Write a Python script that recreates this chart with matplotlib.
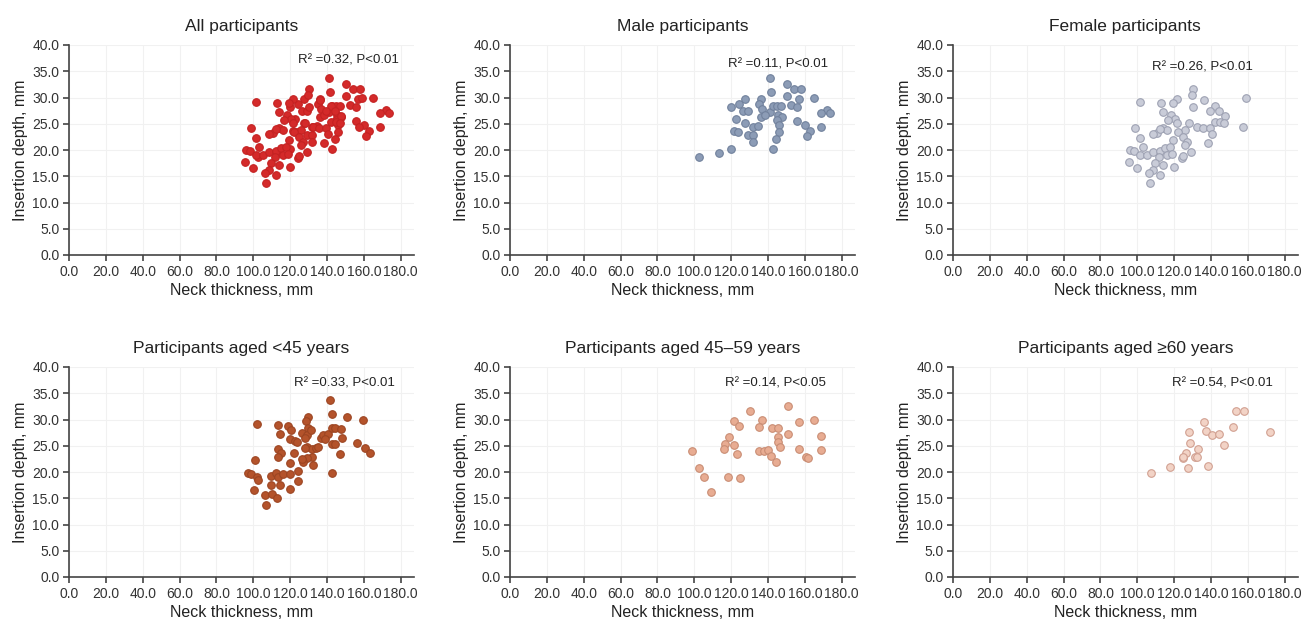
import matplotlib
matplotlib.use("Agg")
import matplotlib.pyplot as plt

# --- data (neck thickness mm, insertion depth mm) ---
male_x = [141.0, 150.5, 154.1, 158.0, 141.9, 165.2, 150.5, 156.8, 127.5, 136.1,
          120.0, 124.1, 134.9, 126.2, 128.9, 137.0, 141.0, 142.8, 145.1, 146.9,
          152.3, 155.9, 172.0, 173.9, 168.5, 122.7, 136.1, 138.5, 145.6, 147.8,
          145.1, 146.0, 155.5, 127.5, 131.6, 134.7, 121.8, 123.6, 128.9, 131.6,
          146.0, 160.0, 162.7, 161.3, 168.5, 144.2, 132.0, 120.0, 113.3, 102.4,
          142.8]
male_y = [33.8, 32.6, 31.7, 31.7, 31.1, 30.0, 30.3, 29.7, 29.7, 29.8,
          28.1, 28.7, 28.7, 27.4, 27.4, 27.9, 27.3, 28.3, 28.4, 28.3,
          28.6, 28.1, 27.6, 27.0, 27.0, 26.0, 26.2, 26.7, 26.7, 26.2,
          25.7, 24.8, 25.6, 25.1, 24.4, 24.5, 23.7, 23.5, 22.9, 22.9,
          23.5, 24.8, 23.6, 22.7, 24.3, 22.1, 21.5, 20.2, 19.4, 18.7,
          20.1]

female_x = [130.4, 129.8, 121.8, 136.1, 101.3, 112.8, 119.2, 159.1, 130.4, 114.2,
            142.4, 139.7, 144.4, 147.5, 118.2, 120.5, 116.9, 142.1, 144.8, 147.1,
            121.4, 128.2, 132.2, 135.4, 139.4, 157.3, 99.0, 113.9, 110.6, 108.5,
            116.0, 112.4, 125.9, 140.8, 101.3, 122.3, 125.0, 119.2, 126.8, 125.9,
            138.5, 102.9, 96.3, 98.4, 101.7, 105.2, 108.5, 112.4, 115.1, 117.8,
            116.0, 118.7, 111.9, 129.1, 124.1, 95.4, 109.8, 99.8, 108.8, 113.7,
            120.0, 106.1, 112.4, 106.7, 125.0]
female_y = [31.6, 30.5, 29.8, 29.5, 29.1, 28.9, 28.9, 30.0, 28.1, 27.3,
            28.3, 27.4, 27.4, 26.5, 26.7, 26.0, 25.7, 25.4, 25.4, 25.1,
            25.1, 25.1, 24.3, 24.1, 24.1, 24.3, 24.1, 24.1, 23.2, 23.0,
            23.8, 24.0, 23.8, 23.0, 22.3, 23.4, 22.5, 21.9, 21.6, 21.0,
            21.3, 20.6, 20.0, 19.8, 19.0, 19.0, 19.6, 19.8, 20.3, 20.6,
            19.0, 19.2, 18.7, 19.6, 18.4, 17.8, 17.5, 16.6, 16.2, 17.1,
            16.8, 15.6, 15.2, 13.7, 18.9]

young_x = [141.5, 142.5, 150.9, 159.6, 129.8, 128.5, 101.8, 113.2, 118.9, 120.2,
           129.8, 114.4, 126.2, 128.9, 131.2, 136.7, 137.9, 140.3, 142.5, 144.6,
           147.5, 147.9, 138.8, 119.8, 122.6, 123.5, 128.0, 128.9, 131.6, 134.3,
           128.0, 135.2, 142.5, 144.3, 156.3, 160.5, 163.2, 147.0, 113.5, 115.0,
           122.2, 113.5, 131.9, 129.4, 119.8, 127.1, 132.2, 101.2, 97.2, 98.7,
           101.8, 102.3, 109.4, 112.6, 113.5, 116.2, 119.8, 124.4, 142.8, 109.5,
           114.4, 124.4, 100.3, 106.3, 109.9, 113.0, 119.8, 106.8, 126.2]
young_y = [33.7, 31.0, 30.4, 29.9, 30.4, 29.8, 29.1, 29.0, 28.8, 28.0,
           28.3, 27.2, 27.4, 27.0, 28.0, 26.4, 27.0, 27.2, 28.3, 28.3,
           28.1, 26.5, 26.3, 26.2, 26.0, 25.8, 26.5, 24.8, 24.4, 24.5,
           24.5, 24.8, 25.3, 25.3, 25.5, 24.6, 23.6, 23.4, 24.4, 23.6,
           23.6, 22.9, 22.9, 22.7, 21.8, 22.0, 21.3, 22.3, 19.9, 19.7,
           19.1, 18.5, 19.2, 19.9, 19.1, 19.6, 19.7, 20.2, 19.9, 17.5,
           17.5, 18.3, 16.6, 15.6, 15.9, 15.0, 16.8, 13.7, 22.4]

middle_x = [150.9, 130.4, 121.8, 124.1, 136.5, 135.2, 156.8, 165.2, 142.1, 145.6,
            150.9, 145.6, 145.6, 146.6, 168.5, 118.7, 116.9, 121.4, 116.0, 123.2,
            135.2, 137.9, 140.1, 141.5, 144.2, 156.8, 168.5, 160.7, 161.6, 99.0,
            102.5, 105.2, 118.2, 125.0, 109.2]
middle_y = [32.6, 31.6, 29.8, 28.8, 29.9, 28.6, 29.6, 30.0, 28.3, 28.3,
            27.2, 26.7, 25.8, 24.8, 26.9, 26.7, 25.3, 25.1, 24.4, 23.4,
            24.0, 24.0, 24.2, 23.1, 22.0, 24.3, 24.2, 22.9, 22.7, 24.0,
            20.7, 19.1, 19.1, 18.9, 16.2]

old_x = [153.7, 157.9, 136.2, 151.9, 128.2, 137.2, 140.6, 144.4, 172.0, 146.9,
         128.6, 132.7, 126.2, 131.3, 132.2, 124.6, 125.0, 117.5, 127.3, 138.6,
         107.6]
old_y = [31.7, 31.7, 29.6, 28.6, 27.6, 27.9, 27.1, 27.2, 27.6, 25.1,
         25.5, 24.3, 23.7, 22.9, 22.8, 22.6, 22.8, 21.0, 20.7, 21.2,
         19.8]

# all participants = male + female
all_x = male_x + female_x
all_y = male_y + female_y

titles = ["All participants", "Male participants", "Female participants",
          "Participants aged <45 years", "Participants aged 45\u201359 years",
          "Participants aged \u226560 years"]
stats = ["R\u00b2 =0.32, P<0.01", "R\u00b2 =0.11, P<0.01", "R\u00b2 =0.26, P<0.01",
         "R\u00b2 =0.33, P<0.01", "R\u00b2 =0.14, P<0.05", "R\u00b2 =0.54, P<0.01"]

panels = [
    (all_x, all_y, "#d42a2a", "#c42222", (179, 37.1)),
    (male_x, male_y, "#8c9cb6", "#71819c", (172.4, 36.2)),
    (female_x, female_y, "#c9ccd8", "#9ea2b3", (162.7, 35.8)),
    (young_x, young_y, "#b4532b", "#9c4522", (177, 36.9)),
    (middle_x, middle_y, "#e8ac92", "#c98d74", (171.3, 36.9)),
    (old_x, old_y, "#f2d3c6", "#d1a091", (173.5, 36.9)),
]

plt.rcParams['font.family'] = ['Liberation Sans', 'DejaVu Sans']
fig = plt.figure(figsize=(13.12, 6.27), dpi=100)

lefts = [69 / 1312, 510 / 1312, 953 / 1312]
bottoms = [(627 - 255) / 627, (627 - 577) / 627]
w = 344.6 / 1312
h = 210 / 627

axis_col = "#444444"
for i, (xs, ys, fc, ec, txt_pos) in enumerate(panels):
    ax = fig.add_axes([lefts[i % 3], bottoms[i // 3], w, h])
    ax.scatter(xs, ys, s=30, color=fc, edgecolors=ec, linewidths=0.8, zorder=3)

    ax.set_xlim(0, 187)
    ax.set_ylim(0, 40)
    xt = list(range(0, 181, 20))
    yt = [v * 5 for v in range(9)]
    ax.set_xticks(xt)
    ax.set_xticklabels([f"{v:.1f}" for v in xt])
    ax.set_yticks(yt)
    ax.set_yticklabels([f"{v:.1f}" for v in yt])
    ax.grid(True, color="#f1f1f1", linewidth=0.8, zorder=0)

    for side in ("top", "right"):
        ax.spines[side].set_visible(False)
    for side in ("left", "bottom"):
        ax.spines[side].set_color(axis_col)
        ax.spines[side].set_linewidth(1.2)
    ax.tick_params(direction="out", length=4, width=1.2, color=axis_col,
                   labelsize=10, labelcolor="#333333", pad=3)

    ax.set_xlabel("Neck thickness, mm", fontsize=11.5, color="#222222", labelpad=3)
    ax.set_ylabel("Insertion depth, mm", fontsize=11.5, color="#222222", labelpad=3)
    ax.set_title(titles[i], fontsize=12.5, color="#222222", pad=10)
    ax.text(txt_pos[0], txt_pos[1], stats[i], ha="right", va="center",
            fontsize=9.5, color="#222222")

fig.savefig("out.png", dpi=100)
